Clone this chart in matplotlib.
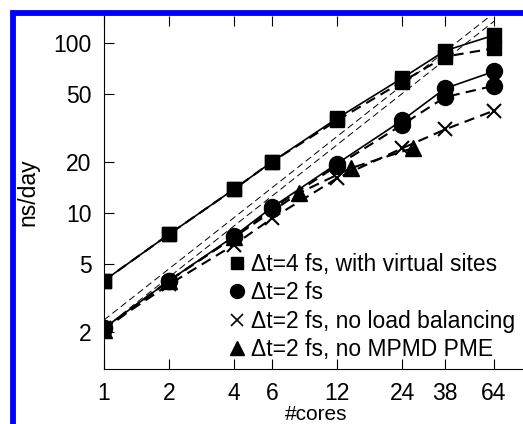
import matplotlib
matplotlib.use("Agg")
from matplotlib import pyplot as plt
from matplotlib.lines import Line2D
from matplotlib.patches import Rectangle

plt.rcParams['font.family'] = ['Liberation Sans', 'DejaVu Sans']

# number of cores
cores = [1, 2, 4, 6, 12, 24, 38, 64]

# dt=4 fs with virtual sites (two runs: solid and dashed)
vsite_solid = [4.0, 7.5, 13.8, 20.0, 36.0, 62.0, 90.0, 111.0]
vsite_dashed = [4.0, 7.5, 13.8, 20.0, 35.0, 59.0, 83.0, 93.0]

# dt=2 fs
dt2_solid = [2.1, 4.0, 7.3, 10.8, 19.5, 35.0, 54.0, 68.0]
dt2_dashed = [2.1, 4.0, 7.2, 10.6, 19.0, 33.0, 48.0, 56.0]

# dt=2 fs, no load balancing
nolb = [2.1, 3.8, 6.5, 9.3, 16.0, 24.0, 31.0, 40.0]

# dt=2 fs, no MPMD PME
nompmd_cores = [1, 2, 4, 8, 14, 27]
nompmd = [2.05, 4.0, 7.2, 13.1, 18.4, 24.1]

# linear scaling guides
ideal_cores = [1, 64]
ideal_a = [2.1, 134.0]
ideal_b = [2.35, 150.0]

labels = ["\u0394t=4 fs, with virtual sites", "\u0394t=2 fs",
          "\u0394t=2 fs, no load balancing", "\u0394t=2 fs, no MPMD PME"]
xticks = [1, 2, 4, 6, 12, 24, 38, 64]
yticks = [2, 5, 10, 20, 50, 100]

fs = 16.5

fig = plt.figure(figsize=(5.23, 4.24), dpi=100)
ax = fig.add_axes([0.1989, 0.1297, 0.8107, 0.8326])

ax.plot(ideal_cores, ideal_a, color='k', lw=0.7, dashes=(7, 4))
ax.plot(ideal_cores, ideal_b, color='k', lw=0.7, dashes=(7, 4))

ax.plot(cores, vsite_solid, 'k-', lw=1.2, marker='s', ms=10)
ax.plot(cores, vsite_dashed, 'k', lw=1.5, dashes=(5, 3), marker='s', ms=10)
ax.plot(cores, dt2_solid, 'k-', lw=1.2, marker='o', ms=11.5)
ax.plot(cores, dt2_dashed, 'k', lw=1.5, dashes=(5, 3), marker='o', ms=11.5)
ax.plot(cores, nolb, 'k', lw=1.5, dashes=(5, 3), marker='x', ms=10, mew=1.5)
ax.plot(nompmd_cores, nompmd, 'k', lw=1.5, dashes=(5, 3), marker='^', ms=11)

ax.set_xscale('log')
ax.set_yscale('log')
ax.set_xlim(1, 92)
ax.set_ylim(1.21, 144)
ax.set_xticks(xticks)
ax.set_xticklabels([str(t) for t in xticks])
ax.set_yticks(yticks)
ax.set_yticklabels([str(t) for t in yticks])
ax.minorticks_off()
ax.tick_params(direction='in', length=7, width=0.8, labelsize=fs, pad=9,
               top=True, right=False)
ax.tick_params(axis='x', pad=9)
ax.spines['right'].set_visible(False)
ax.spines['top'].set_visible(False)
ax.set_ylabel("ns/day", fontsize=fs, labelpad=10)
fig.text(0.604, 0.0, "#cores", fontsize=15, ha='center', va='bottom')

handles = [
    Line2D([], [], color='k', ls='none', marker='s', ms=8),
    Line2D([], [], color='k', ls='none', marker='o', ms=10),
    Line2D([], [], color='k', ls='none', marker='x', ms=8, mew=1.2),
    Line2D([], [], color='k', ls='none', marker='^', ms=10),
]
fig.legend(handles, labels, loc='upper left', bbox_to_anchor=(0.44, 0.404),
           frameon=False, fontsize=16.5, handlelength=0.6, handletextpad=0.3,
           labelspacing=0.24, borderpad=0, borderaxespad=0)

fig.patches.append(Rectangle((0.0249, -0.2), 1.5, 1.1705, transform=fig.transFigure,
                             fill=False, edgecolor='#0000ff', lw=4.2, figure=fig))

fig.savefig("out.png", dpi=100)
